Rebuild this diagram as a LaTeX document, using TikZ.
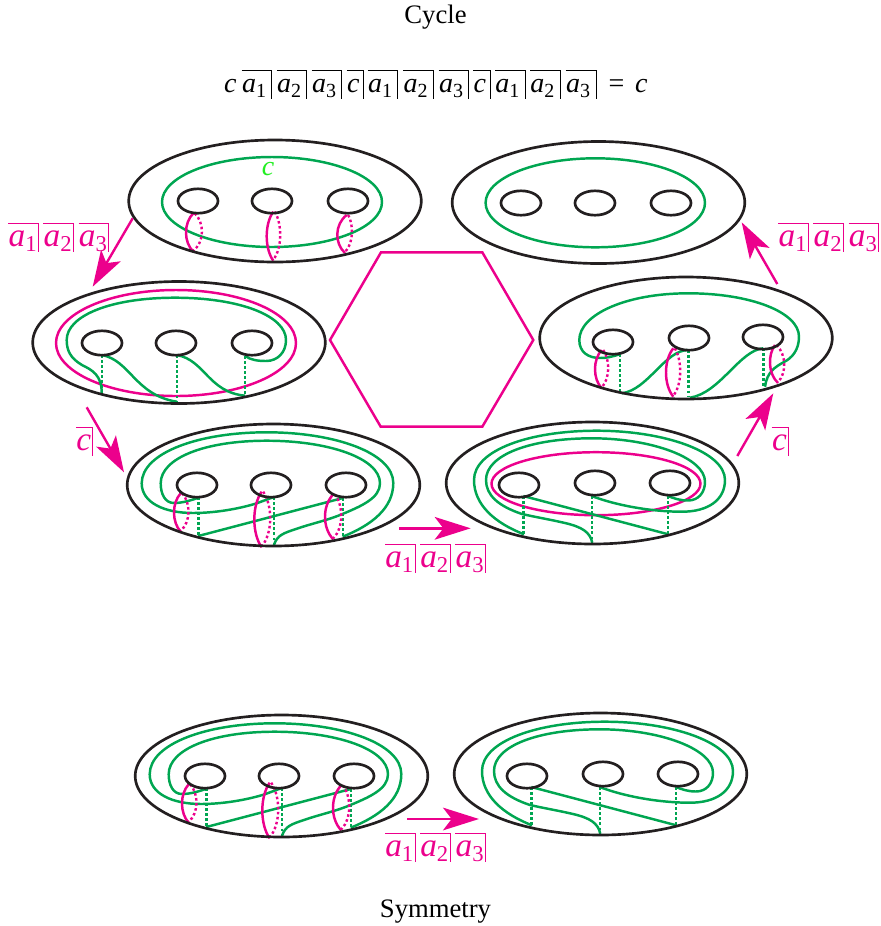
\documentclass[tikz,border=0pt]{standalone}
\usepackage{fontspec}
\setmainfont{Liberation Serif}
\usetikzlibrary{arrows.meta}
\definecolor{gr}{HTML}{00A651}
\definecolor{mg}{HTML}{EC008C}
\definecolor{bk}{HTML}{231F20}
\definecolor{lgr}{HTML}{22EE22}
\tikzset{
  x=0.75pt,y=-0.75pt,
  blk/.style={draw=bk,line width=2pt},
  grn/.style={draw=gr,line width=1.85pt},
  mag/.style={draw=mg,line width=1.85pt},
  grd/.style={draw=gr,line width=1.8pt,dash pattern=on 1.9pt off 1.9pt},
  mgd/.style={draw=mg,line width=1.8pt,dash pattern=on 1.9pt off 1.9pt},
  bigarrow/.style={draw=mg,line width=1.8pt,-{Stealth[length=27pt,width=17pt,inset=6.5pt]}},
  txt/.style={inner sep=0pt,outer sep=0pt,text=black},
  lab/.style={inner sep=0pt,outer sep=0pt,anchor=base west},
}
\newcommand{\surf}[8]{%
  \draw[blk] (#1,#2) ellipse [x radius=146.3,y radius=61];
  \draw[blk] (#3,#4) ellipse [x radius=20,y radius=12.2];
  \draw[blk] (#5,#6) ellipse [x radius=20,y radius=12.2];
  \draw[blk] (#7,#8) ellipse [x radius=20,y radius=12.2];
}
% x1 y1 x2 y2 bulge-solid bulge-dotted
\newcommand{\mloop}[6]{%
  \pgfmathsetmacro{\mya}{#2+0.25*(#4-#2)}%
  \pgfmathsetmacro{\myb}{#4-0.25*(#4-#2)}%
  \pgfmathsetmacro{\mxs}{0.5*(#1+#3)+1.3333*(#5-0.5*(#1+#3))}%
  \pgfmathsetmacro{\mxd}{0.5*(#1+#3)+1.3333*(#6-0.5*(#1+#3))}%
  \draw[mgd] (#1+1.5,#2) .. controls (\mxd,\mya) and (\mxd,\myb) .. (#3,#4-1);
  \draw[mag] (#1,#2) .. controls (\mxs,\mya) and (\mxs,\myb) .. (#3,#4);
}
\newcommand{\Sc}[1]{\fontsize{#1}{#1}\selectfont}
% cell: name, x of left end, y of top, width, colour, font size, content
\newcommand{\bcell}[7]{%
  \draw[#5,line width=0.55pt] (#2,#3) -- (#2+#4,#3) -- (#2+#4,#3+28.5);
  \node[lab,text=#5] (#1) at (#2+0.3,#3+22.8) {\Sc{#6}#7};
}
\newcommand{\asub}[2]{\textit{a}\raisebox{-0.16em}{\fontsize{#2}{#2}\selectfont #1}}
\newcommand{\triple}[4]{%
  \bcell{#1a}{#2}{#3}{30}{mg}{25}{\asub{1}{17}}
  \bcell{#1b}{#2+35}{#3}{30}{mg}{25}{\asub{2}{17}}
  \bcell{#1c}{#2+70.3}{#3}{30}{mg}{25}{\asub{3}{17}}
}
\newcommand{\panelV}{%
  \draw[grd] (198.3,497) -- (198.3,536);
  \draw[grd] (274,497) -- (274,545);
  \draw[grd] (342.7,498) -- (342.7,536);
  \draw[grn] (342.7,536.7) .. controls (372,525) and (393.3,508) .. (393.3,483)
     .. controls (393.3,453) and (335,432.3) .. (266.7,432.3)
     .. controls (198,432.3) and (141.7,453) .. (141.7,483.3)
     .. controls (141.7,503) and (165,513) .. (193,513)
     .. controls (220,513) and (245,507) .. (256.7,503.3)
     .. controls (263,501) and (268,499) .. (273.3,497.3);
  \draw[grn] (274,545) .. controls (277,535) and (284,533) .. (296,529)
     .. controls (310,524) and (325,521) .. (340,515)
     .. controls (362,506) and (380,498) .. (380,483.3)
     .. controls (380,458) and (328,440.7) .. (266.7,440.7)
     .. controls (205,440.7) and (160.7,458) .. (160.7,483.3)
     .. controls (160.7,494) and (165,503) .. (174,503)
     .. controls (183,503) and (192,500) .. (198.3,497.7);
  \draw[grn] (198.3,536) -- (341.7,498.3);
  \mloop{180.7}{493.3}{180.7}{531.7}{174}{188.3}
  \mloop{261.7}{491.7}{261.7}{547.3}{254.3}{270}
  \mloop{333.3}{494.3}{333.3}{539.3}{325}{341}
  \surf{273.5}{485}{197}{485}{271}{485}{346}{485}
}
\newcommand{\panelVI}{%
  \draw[grd] (523.5,496) -- (523.5,534);
  \draw[grd] (592,496) -- (592,543);
  \draw[grd] (667.7,496) -- (667.7,534);
  \draw[grn] (524,534.3) .. controls (495,523) and (474,505) .. (474,480)
     .. controls (474,450) and (530,430.7) .. (596.7,430.7)
     .. controls (665,430.7) and (725,452) .. (725,480)
     .. controls (725,500) and (708,511.7) .. (682,511.7)
     .. controls (650,511.7) and (615,505) .. (591.7,496);
  \draw[grn] (592.3,542.7) .. controls (590,532) and (582,527) .. (565,523)
     .. controls (550,519.5) and (535,517) .. (522,514)
     .. controls (498,506) and (486,495) .. (486,480)
     .. controls (486,455) and (530,438.3) .. (592,438.3)
     .. controls (652,438.3) and (705,458) .. (705,481.7)
     .. controls (705,493) and (698,500.5) .. (688,500.5)
     .. controls (680,500.5) and (674,498.5) .. (667.3,495.7);
  \draw[grn] (523.3,496) -- (668.3,534.3);
  \surf{592.5}{483}{519}{485}{595}{483}{670}{483}
}
\begin{document}
\begin{tikzpicture}
\useasboundingbox (0,0) rectangle (881,926);
% titles
\node[txt,anchor=base] (title) at (435.5,23) {\Sc{20}Cycle};
\node[txt,anchor=base] (sym) at (435.5,917.5) {\Sc{20}Symmetry};
% equation
\node[lab] (e0) at (224,92.3) {\Sc{21}\textit{c}};
\bcell{e1}{241.7}{70}{29.5}{black}{21}{\asub{1}{15}}
\bcell{e2}{276.7}{70}{29.5}{black}{21}{\asub{2}{15}}
\bcell{e3}{311.7}{70}{29.5}{black}{21}{\asub{3}{15}}
\bcell{e4}{346.7}{70}{16.3}{black}{21}{\textit{c}}
\bcell{e5}{367.7}{70}{30}{black}{21}{\asub{1}{15}}
\bcell{e6}{403.3}{70}{30}{black}{21}{\asub{2}{15}}
\bcell{e7}{438.7}{70}{30}{black}{21}{\asub{3}{15}}
\bcell{e8}{473.3}{70}{17}{black}{21}{\textit{c}}
\bcell{e9}{495}{70}{30}{black}{21}{\asub{1}{15}}
\bcell{e10}{530}{70}{30}{black}{21}{\asub{2}{15}}
\bcell{e11}{565.7}{70}{31}{black}{21}{\asub{3}{15}}
\node[lab] (e12) at (608.5,92.3) {\Sc{21}=};
\node[lab] (e13) at (635,92.3) {\Sc{21}\textit{c}};
% hexagon
\draw[mag,line join=miter] (381,252.3) -- (482.3,252.3) -- (533.3,340) -- (482.3,426.7) -- (380.7,426.7) -- (330,340) -- cycle;
% panel 1
\draw[grn] (272,202) ellipse [x radius=110,y radius=45];
\mloop{193.3}{213.3}{193.3}{251.7}{186}{201.7}
\mloop{273.3}{211.7}{273.3}{260.7}{266.7}{280}
\mloop{346.7}{215}{345}{253}{337.3}{351.7}
\surf{275}{201}{198}{201}{272}{201}{348}{201}
\node[txt,anchor=base,text=lgr] (clab) at (268,175.7) {\Sc{21}\textit{c}};
% panel 2
\draw[grn] (595.3,202.8) ellipse [x radius=109.7,y radius=44.5];
\surf{598.5}{202.5}{521}{203}{595}{203}{671}{203}
% panel 3
\draw[mag] (176,343) ellipse [x radius=120,y radius=53];
\draw[grd] (101.7,355) -- (101.7,393);
\draw[grd] (176.7,355) -- (176.7,401);
\draw[grd] (245,356) -- (245,396);
\draw[grn] (101.7,393.5) .. controls (102,375) and (92,370) .. (82,365)
   .. controls (70,358) and (66.7,350) .. (66.7,340)
   .. controls (66.7,316) and (110,297.7) .. (175,297.7)
   .. controls (240,297.7) and (286,316) .. (286,340)
   .. controls (286,352) and (278,361) .. (266,361)
   .. controls (258,361) and (250,360) .. (245,355.7);
\draw[grn] (101.7,355) .. controls (130,360) and (135,395) .. (176.7,401.7);
\draw[grn] (176.7,355) .. controls (205,360) and (208,392) .. (245,395.7);
\surf{179}{342.5}{102}{343}{176}{343}{252}{343}
% panel 4
\draw[grd] (620,354) -- (620,393);
\draw[grd] (688.3,350) -- (688.3,397);
\draw[grd] (763.3,348) -- (763.3,387);
\draw[grn] (620,354) .. controls (612,357) and (606,358) .. (600,358)
   .. controls (588,358) and (579.3,352) .. (579.3,340)
   .. controls (579.3,315) and (625,293.3) .. (688.3,293.3)
   .. controls (750,293.3) and (799,312) .. (799,336.7)
   .. controls (799,350) and (792,358) .. (784,362)
   .. controls (775,367) and (767,372) .. (765,386.7);
\draw[grn] (763.3,348.3) .. controls (740,350) and (720,393) .. (690,397.7);
\draw[grn] (688.3,350) .. controls (665,350) and (648,390) .. (621.7,393.3);
\mloop{601.7}{350}{601.7}{388.3}{595}{608}
\mloop{673.3}{348.3}{673.3}{396.7}{666}{680}
\mloop{775}{345}{778}{383}{770}{784}
\surf{686}{338}{613}{342}{689}{338}{763}{337}
% panel 5, panel 6
\panelV
\draw[mag] (596,483.7) ellipse [x radius=104.5,y radius=31.5];
\panelVI
% symmetry panels
\begin{scope}[shift={(8,291)}]
\panelV
\panelVI
\end{scope}
% arrows
\coordinate (a1s) at (132.7,218.3); \coordinate (a1e) at (92.7,286.7);
\coordinate (a2s) at (86.7,407.3);  \coordinate (a2e) at (124,472.3);
\coordinate (a3s) at (399.3,528.3); \coordinate (a3e) at (470.7,528.3);
\coordinate (a4s) at (737.3,456);   \coordinate (a4e) at (773.3,393.3);
\coordinate (a5s) at (777.3,284);   \coordinate (a5e) at (741.7,222.3);
\coordinate (a6s) at (407.3,819);   \coordinate (a6e) at (479,819);
\draw[bigarrow] (a1s) -- (a1e);
\draw[bigarrow] (a2s) -- (a2e);
\draw[bigarrow] (a3s) -- (a3e);
\draw[bigarrow] (a4s) -- (a4e);
\draw[bigarrow] (a5s) -- (a5e);
\draw[bigarrow] (a6s) -- (a6e);
% labels
\triple{la}{8.3}{223.3}{}
\triple{lb}{778.3}{223.3}{}
\triple{lc}{385}{544.3}{}
\triple{ld}{385}{833.3}{}
\bcell{le}{76}{427.3}{16.3}{mg}{25}{\textit{c}}
\bcell{lf}{771.7}{427.3}{16.6}{mg}{25}{\textit{c}}
\end{tikzpicture}
\end{document}
